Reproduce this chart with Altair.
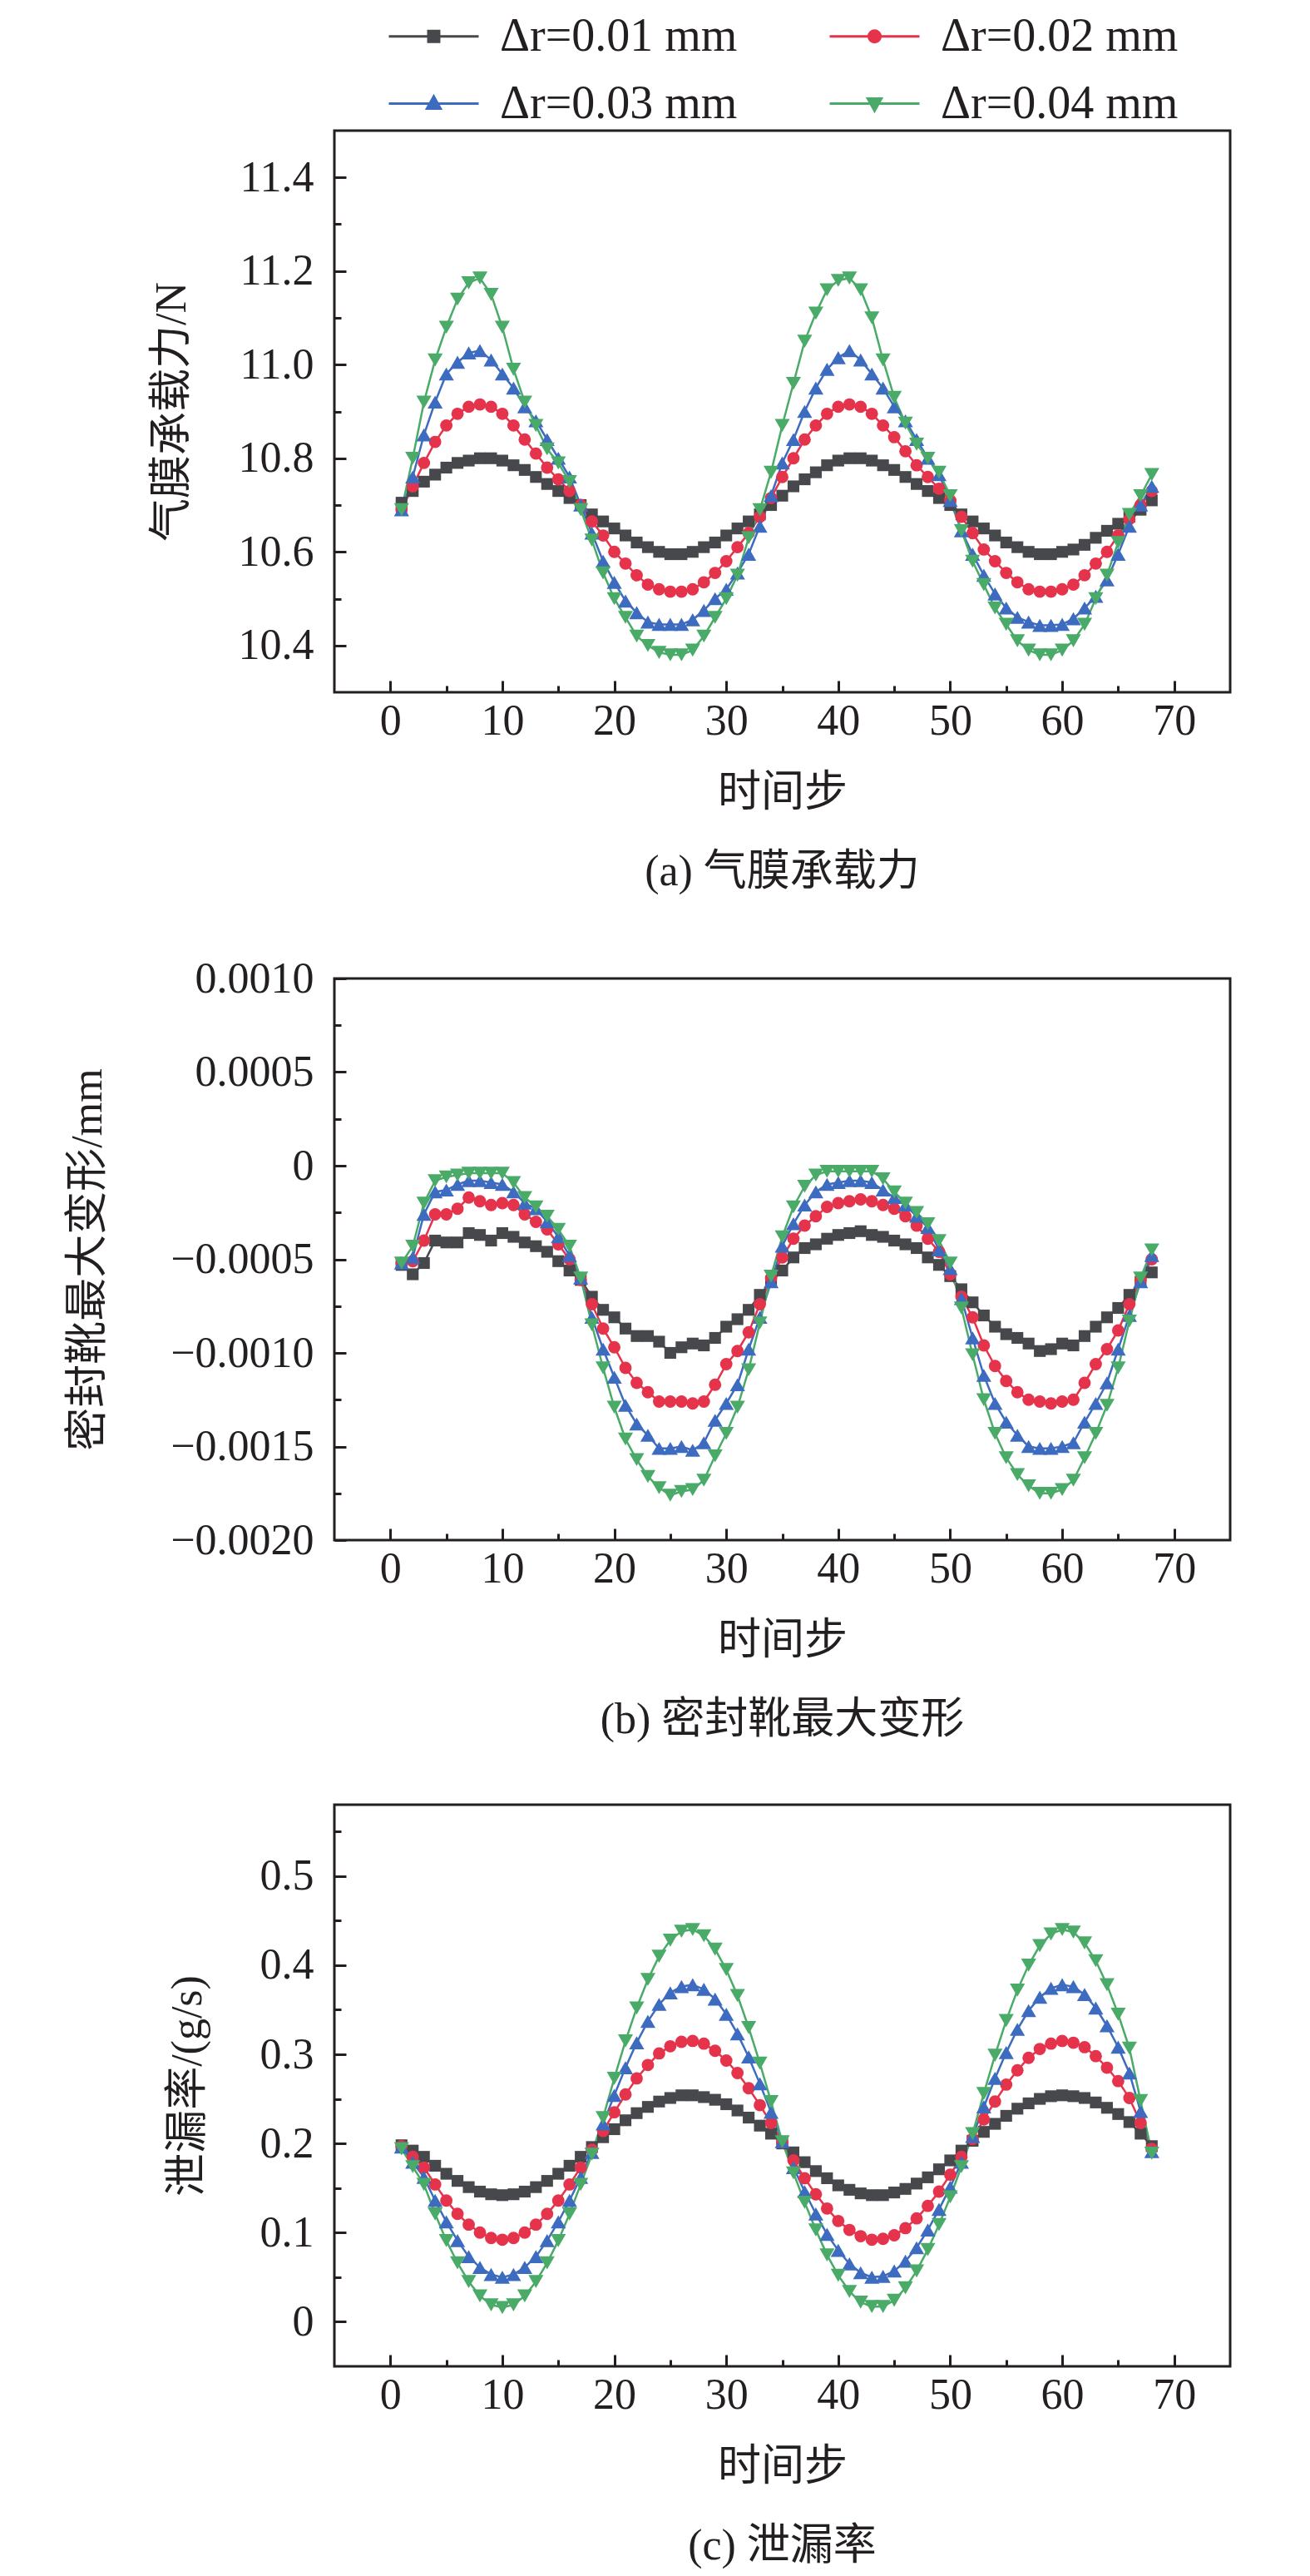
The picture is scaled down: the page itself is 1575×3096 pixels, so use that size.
import altair as alt
import pandas as pd

FONT = "Liberation Serif, 'Noto Sans CJK SC'"
INK = "#231f20"

steps = list(range(1, 69))
series = ["Δr=0.01 mm", "Δr=0.02 mm", "Δr=0.03 mm", "Δr=0.04 mm"]
colors = ["#47484c", "#e5334b", "#3d6bbf", "#4aab69"]
shapes = ["square", "circle", "triangle-up", "triangle-down"]
marker_sizes = [200, 220, 330, 330]
legend_paths = [
    "M-2,0H2M-0.24,-0.24H0.24V0.24H-0.24Z",
    "M-2,0H2M-0.26,0A0.26,0.26,0,1,0,0.26,0A0.26,0.26,0,1,0,-0.26,0Z",
    "M-2,0H2M0,-0.32L0.3,0.22H-0.3Z",
    "M-2,0H2M-0.3,-0.22H0.3L0,0.32Z",
]

x_major = [0, 10, 20, 30, 40, 50, 60, 70]
x_minor = [5, 15, 25, 35, 45, 55, 65]

# (a) 气膜承载力 / N
force_001 = [10.705, 10.73, 10.75, 10.765, 10.78, 10.79, 10.795, 10.80, 10.80, 10.795,
             10.785, 10.775, 10.76, 10.745, 10.73, 10.715, 10.70, 10.68, 10.665, 10.65,
             10.635, 10.62, 10.61, 10.60, 10.595, 10.595, 10.60, 10.61, 10.62, 10.635,
             10.65, 10.665, 10.68, 10.70, 10.72, 10.74, 10.755, 10.77, 10.785, 10.795,
             10.80, 10.80, 10.795, 10.785, 10.775, 10.76, 10.745, 10.73, 10.715, 10.70,
             10.68, 10.665, 10.65, 10.635, 10.62, 10.61, 10.60, 10.595, 10.595, 10.60,
             10.605, 10.615, 10.63, 10.645, 10.66, 10.675, 10.69, 10.71]
force_002 = [10.69, 10.74, 10.79, 10.835, 10.87, 10.895, 10.91, 10.915, 10.91, 10.895,
             10.87, 10.84, 10.81, 10.78, 10.755, 10.73, 10.70, 10.665, 10.635, 10.60,
             10.575, 10.55, 10.53, 10.52, 10.515, 10.515, 10.52, 10.535, 10.555, 10.58,
             10.61, 10.64, 10.675, 10.715, 10.76, 10.80, 10.84, 10.87, 10.895, 10.91,
             10.915, 10.91, 10.895, 10.87, 10.845, 10.815, 10.785, 10.76, 10.735, 10.71,
             10.675, 10.64, 10.605, 10.58, 10.555, 10.535, 10.52, 10.515, 10.515, 10.52,
             10.53, 10.55, 10.575, 10.60, 10.635, 10.67, 10.70, 10.73]
force_003 = [10.69, 10.76, 10.85, 10.92, 10.98, 11.005, 11.025, 11.03, 11.01, 10.98,
             10.95, 10.91, 10.88, 10.84, 10.80, 10.76, 10.70, 10.64, 10.58, 10.535,
             10.495, 10.47, 10.45, 10.445, 10.445, 10.445, 10.455, 10.475, 10.50, 10.52,
             10.555, 10.595, 10.655, 10.72, 10.79, 10.84, 10.90, 10.95, 10.99, 11.015,
             11.03, 11.01, 10.98, 10.95, 10.91, 10.88, 10.84, 10.80, 10.765, 10.71,
             10.645, 10.595, 10.55, 10.51, 10.48, 10.46, 10.45, 10.443, 10.443, 10.445,
             10.457, 10.48, 10.505, 10.54, 10.595, 10.655, 10.70, 10.74]
force_004 = [10.69, 10.80, 10.92, 11.01, 11.08, 11.14, 11.175, 11.185, 11.15, 11.08,
             10.99, 10.92, 10.87, 10.82, 10.79, 10.75, 10.69, 10.625, 10.555, 10.50,
             10.46, 10.42, 10.40, 10.385, 10.38, 10.38, 10.39, 10.42, 10.46, 10.50,
             10.55, 10.63, 10.69, 10.77, 10.87, 10.96, 11.05, 11.11, 11.16, 11.18,
             11.185, 11.16, 11.10, 11.01, 10.93, 10.875, 10.83, 10.80, 10.77, 10.72,
             10.645, 10.58, 10.53, 10.48, 10.445, 10.41, 10.39, 10.38, 10.38, 10.39,
             10.41, 10.445, 10.50, 10.55, 10.62, 10.68, 10.72, 10.765]

# (b) 密封靴最大变形 / mm
deform_001 = [-0.00053, -0.00058, -0.00052, -0.00040, -0.00041, -0.00041, -0.00036, -0.00037, -0.00040, -0.00036,
              -0.00038, -0.00041, -0.00043, -0.00046, -0.00051, -0.00056, -0.00061, -0.00070, -0.00077, -0.00081,
              -0.00087, -0.00091, -0.00091, -0.00094, -0.00100, -0.00097, -0.00095, -0.00096, -0.00092, -0.00086,
              -0.00082, -0.00077, -0.00069, -0.00062, -0.00056, -0.00049, -0.00044, -0.00042, -0.00039, -0.00037,
              -0.00036, -0.00035, -0.00037, -0.00038, -0.00040, -0.00042, -0.00044, -0.00049, -0.00053, -0.00059,
              -0.00066, -0.00073, -0.00080, -0.00086, -0.00090, -0.00092, -0.00095, -0.00099, -0.00098, -0.00095,
              -0.00096, -0.00091, -0.00086, -0.00081, -0.00076, -0.00069, -0.00062, -0.00057]
deform_002 = [-0.00052, -0.00051, -0.00040, -0.00026, -0.00026, -0.00023, -0.00017, -0.00019, -0.00021, -0.00020,
              -0.00021, -0.00026, -0.00030, -0.00034, -0.00042, -0.00050, -0.00061, -0.00074, -0.00087, -0.00097,
              -0.00108, -0.00116, -0.00121, -0.00126, -0.00126, -0.00126, -0.00127, -0.00126, -0.00117, -0.00106,
              -0.00099, -0.00089, -0.00074, -0.00060, -0.00049, -0.00039, -0.00032, -0.00027, -0.00022, -0.00020,
              -0.00019, -0.00018, -0.00019, -0.00021, -0.00023, -0.00027, -0.00032, -0.00039, -0.00046, -0.00058,
              -0.00070, -0.00081, -0.00096, -0.00107, -0.00115, -0.00121, -0.00125, -0.00126, -0.00127, -0.00126,
              -0.00125, -0.00116, -0.00106, -0.00098, -0.00088, -0.00074, -0.00061, -0.00050]
deform_003 = [-0.00052, -0.00049, -0.00026, -0.00014, -0.00013, -0.00010, -0.00008, -0.00008, -0.00009, -0.00010,
              -0.00014, -0.00020, -0.00023, -0.00030, -0.00038, -0.00048, -0.00060, -0.00081, -0.00098, -0.00113,
              -0.00128, -0.00138, -0.00144, -0.00151, -0.00151, -0.00150, -0.00152, -0.00148, -0.00136, -0.00127,
              -0.00117, -0.00098, -0.00081, -0.00062, -0.00043, -0.00031, -0.00021, -0.00014, -0.00010, -0.00009,
              -0.00008, -0.00008, -0.00009, -0.00013, -0.00017, -0.00021, -0.00027, -0.00033, -0.00045, -0.00055,
              -0.00071, -0.00092, -0.00112, -0.00127, -0.00137, -0.00144, -0.00150, -0.00151, -0.00151, -0.00150,
              -0.00148, -0.00137, -0.00127, -0.00116, -0.00098, -0.00080, -0.00062, -0.00048]
deform_004 = [-0.00052, -0.00043, -0.00020, -0.00008, -0.00006, -0.00005, -0.00004, -0.00004, -0.00004, -0.00004,
              -0.00009, -0.00017, -0.00022, -0.00027, -0.00034, -0.00043, -0.00060, -0.00085, -0.00108, -0.00129,
              -0.00146, -0.00157, -0.00166, -0.00172, -0.00176, -0.00174, -0.00173, -0.00168, -0.00155, -0.00143,
              -0.00129, -0.00109, -0.00084, -0.00059, -0.00038, -0.00022, -0.00011, -0.00005, -0.00003, -0.00003,
              -0.00003, -0.00003, -0.00003, -0.00007, -0.00014, -0.00020, -0.00025, -0.00031, -0.00040, -0.00052,
              -0.00076, -0.00101, -0.00125, -0.00143, -0.00156, -0.00165, -0.00171, -0.00175, -0.00175, -0.00173,
              -0.00168, -0.00156, -0.00143, -0.00128, -0.00108, -0.00083, -0.00060, -0.00045]

# (c) 泄漏率 / (g/s)
leak_001 = [0.198, 0.192, 0.185, 0.175, 0.166, 0.158, 0.151, 0.146, 0.143, 0.142,
            0.143, 0.146, 0.151, 0.158, 0.166, 0.175, 0.185, 0.196, 0.207, 0.216,
            0.226, 0.234, 0.241, 0.247, 0.251, 0.254, 0.254, 0.252, 0.249, 0.244,
            0.237, 0.229, 0.220, 0.211, 0.200, 0.190, 0.179, 0.169, 0.161, 0.153,
            0.148, 0.144, 0.142, 0.142, 0.145, 0.149, 0.155, 0.162, 0.171, 0.181,
            0.192, 0.203, 0.213, 0.222, 0.231, 0.239, 0.245, 0.250, 0.253, 0.254,
            0.253, 0.251, 0.246, 0.240, 0.233, 0.224, 0.211, 0.197]
leak_002 = [0.197, 0.185, 0.173, 0.154, 0.136, 0.121, 0.109, 0.100, 0.094, 0.092,
            0.094, 0.100, 0.109, 0.121, 0.136, 0.154, 0.173, 0.193, 0.214, 0.235,
            0.255, 0.273, 0.288, 0.301, 0.309, 0.314, 0.315, 0.312, 0.304, 0.293,
            0.279, 0.262, 0.243, 0.223, 0.201, 0.181, 0.161, 0.143, 0.127, 0.113,
            0.103, 0.096, 0.092, 0.093, 0.097, 0.105, 0.116, 0.130, 0.146, 0.165,
            0.185, 0.205, 0.227, 0.247, 0.266, 0.282, 0.296, 0.306, 0.312, 0.315,
            0.313, 0.308, 0.298, 0.285, 0.270, 0.251, 0.223, 0.194]
leak_003 = [0.196, 0.179, 0.162, 0.136, 0.112, 0.091, 0.073, 0.061, 0.053, 0.050,
            0.053, 0.061, 0.073, 0.091, 0.112, 0.136, 0.162, 0.190, 0.222, 0.254,
            0.285, 0.313, 0.337, 0.356, 0.369, 0.376, 0.378, 0.373, 0.362, 0.345,
            0.323, 0.297, 0.267, 0.235, 0.202, 0.173, 0.146, 0.121, 0.098, 0.080,
            0.065, 0.055, 0.050, 0.051, 0.057, 0.068, 0.083, 0.103, 0.126, 0.151,
            0.179, 0.208, 0.241, 0.273, 0.302, 0.328, 0.349, 0.364, 0.374, 0.378,
            0.376, 0.367, 0.352, 0.332, 0.308, 0.279, 0.236, 0.191]
leak_004 = [0.194, 0.174, 0.154, 0.121, 0.091, 0.066, 0.045, 0.029, 0.019, 0.016,
            0.019, 0.029, 0.045, 0.066, 0.091, 0.121, 0.154, 0.188, 0.229, 0.273,
            0.315, 0.352, 0.384, 0.410, 0.428, 0.438, 0.440, 0.433, 0.418, 0.395,
            0.366, 0.330, 0.290, 0.247, 0.202, 0.167, 0.134, 0.103, 0.075, 0.052,
            0.034, 0.022, 0.017, 0.017, 0.024, 0.038, 0.057, 0.081, 0.109, 0.140,
            0.174, 0.211, 0.256, 0.299, 0.338, 0.372, 0.400, 0.422, 0.435, 0.440,
            0.437, 0.425, 0.405, 0.378, 0.345, 0.307, 0.248, 0.189]


def long_frame(cols):
    rows = []
    for name, vals in zip(series, cols):
        for s, v in zip(steps, vals):
            rows.append({"step": s, "value": v, "series": name})
    return pd.DataFrame(rows)


W, H = 1077, 675
LABEL_FS = 52
TITLE_FS = 52


def tick_axis(orient, values, size):
    return alt.Axis(orient=orient, values=values, labels=False, domain=False, grid=False,
                    ticks=True, tickSize=size, offset=-size, title=None)


def panel(df, ydomain, ymajor, yminor, ylabel_expr, ytitle, caption, ytitle_pad, with_legend=False):
    xs = alt.Scale(domain=[-5, 75], nice=False, zero=False)
    ys = alt.Scale(domain=ydomain, nice=False, zero=False)
    base = alt.Chart(df)

    lines = base.mark_line(strokeWidth=2.5).encode(
        x=alt.X("step:Q", scale=xs, axis=alt.Axis(
            orient="bottom", values=x_major, ticks=False, domain=False, grid=False,
            labelPadding=9, labelFontSize=LABEL_FS, title="时间步",
            titleFontSize=TITLE_FS, titlePadding=35)),
        y=alt.Y("value:Q", scale=ys, axis=alt.Axis(
            orient="left", values=ymajor, ticks=False, domain=False, grid=False,
            labelPadding=25, labelFontSize=LABEL_FS, labelExpr=ylabel_expr,
            title=ytitle, titleFontSize=TITLE_FS, titlePadding=ytitle_pad)),
        color=alt.Color("series:N", scale=alt.Scale(domain=series, range=colors), legend=None),
    )
    layers = [lines]
    for i, (name, col, shp, sz) in enumerate(zip(series, colors, shapes, marker_sizes)):
        if i == 0:
            xa, ya = tick_axis("bottom", x_major, 14), tick_axis("left", ymajor, 14)
        elif i == 1:
            xa, ya = tick_axis("bottom", x_minor, 8), tick_axis("left", yminor, 8)
        else:
            xa, ya = None, None
        pts = base.transform_filter(alt.datum.series == name).mark_point(
            filled=True, opacity=1, shape=shp, size=sz, color=col).encode(
            x=alt.X("step:Q", scale=xs, axis=xa),
            y=alt.Y("value:Q", scale=ys, axis=ya),
        )
        layers.append(pts)
    if with_legend:
        leg = alt.Legend(
            orient="none", legendX=91, legendY=-142, columns=2, direction="horizontal",
            columnPadding=104, rowPadding=24, symbolSize=2916, symbolStrokeWidth=3,
            labelFontSize=56, labelFont=FONT, labelColor=INK, labelOffset=51,
            labelLimit=0, title=None, padding=0)
        legend_layer = alt.Chart(pd.DataFrame({"series": series})).transform_filter(
            "false").mark_point(filled=True, opacity=1, strokeWidth=3).encode(
            fill=alt.Fill("series:N", scale=alt.Scale(domain=series, range=colors), legend=leg),
            stroke=alt.Stroke("series:N", scale=alt.Scale(domain=series, range=colors), legend=leg),
            shape=alt.Shape("series:N", scale=alt.Scale(domain=series, range=legend_paths), legend=leg),
        )
        layers.append(legend_layer)
    ch = alt.layer(*layers).resolve_axis(x="independent", y="independent")
    return ch.properties(
        width=W, height=H,
        title=alt.TitleParams(text=caption, orient="bottom", offset=45, fontSize=TITLE_FS,
                              font=FONT, fontWeight="normal", color=INK, anchor="middle",
                              frame="group"))


df_a = long_frame([force_001, force_002, force_003, force_004])
df_b = long_frame([deform_001, deform_002, deform_003, deform_004])
df_c = long_frame([leak_001, leak_002, leak_003, leak_004])

pa = panel(df_a, [10.3, 11.5], [10.4, 10.6, 10.8, 11.0, 11.2, 11.4],
           [10.5, 10.7, 10.9, 11.1, 11.3], "format(datum.value, '.1f')",
           "气膜承载力/N", "(a) 气膜承载力", 53, with_legend=True)
pb = panel(df_b, [-0.002, 0.001], [-0.002, -0.0015, -0.001, -0.0005, 0, 0.0005, 0.001],
           [-0.00175, -0.00125, -0.00075, -0.00025, 0.00025, 0.00075],
           "datum.value == 0 ? '0' : format(datum.value, '.4f')",
           "密封靴最大变形/mm", "(b) 密封靴最大变形", 72)
pc = panel(df_c, [-0.05, 0.58], [0, 0.1, 0.2, 0.3, 0.4, 0.5],
           [0.05, 0.15, 0.25, 0.35, 0.45, 0.55],
           "datum.value == 0 ? '0' : format(datum.value, '.1f')",
           "泄漏率/(g/s)", "(c) 泄漏率", 60)

chart = alt.vconcat(pa, pb, pc, spacing=72).resolve_scale(
    fill="independent", stroke="independent", shape="independent"
).resolve_legend(
    fill="independent", stroke="independent", shape="independent"
).properties(
    padding={"left": 70, "top": 5, "right": 10, "bottom": 0}
).configure_view(
    stroke=INK, strokeWidth=3
).configure_axis(
    labelFont=FONT, titleFont=FONT, labelColor=INK, titleColor=INK,
    tickColor=INK, tickWidth=3, titleFontWeight="normal", labelFontWeight="normal"
).configure_title(font=FONT)

chart.save("out.html", embed_options={"renderer": "svg", "actions": False})
